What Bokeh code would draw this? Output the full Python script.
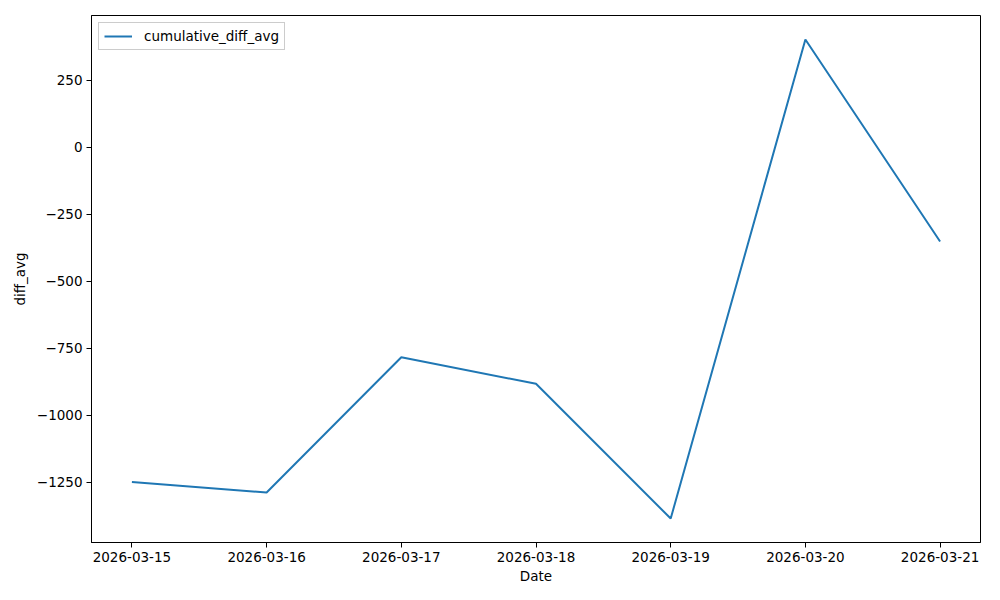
from datetime import datetime
from bokeh.plotting import figure
from bokeh.models import FixedTicker, DatetimeTickFormatter, Range1d, Legend, LegendItem
from bokeh.embed import file_html
from bokeh.resources import INLINE

dates = ["2026-03-15", "2026-03-16", "2026-03-17", "2026-03-18", "2026-03-19", "2026-03-20", "2026-03-21"]
cumulative_diff_avg = [-1250, -1289, -784, -883, -1386, 402, -352]
y_ticks = [-1250, -1000, -750, -500, -250, 0, 250]

xs = [datetime.strptime(d, "%Y-%m-%d") for d in dates]
ms = [(x - datetime(1970, 1, 1)).total_seconds() * 1000 for x in xs]

span = ms[-1] - ms[0]
ymin, ymax = min(cumulative_diff_avg), max(cumulative_diff_avg)
ypad = (ymax - ymin) * 0.05

p = figure(width=984, height=592, x_axis_type="datetime", output_backend="svg",
           toolbar_location=None,
           x_range=Range1d(ms[0] - span * 0.05, ms[-1] + span * 0.05),
           y_range=Range1d(ymin - ypad, ymax + ypad),
           min_border_left=91, min_border_right=4, min_border_top=15, min_border_bottom=50)

r = p.line(xs, cumulative_diff_avg, line_color="#1f77b4", line_width=2)

p.xgrid.visible = False
p.ygrid.visible = False
p.outline_line_color = "black"
p.outline_line_width = 1
p.outline_line_alpha = 1

p.xaxis.ticker = FixedTicker(ticks=ms)
p.xaxis.formatter = DatetimeTickFormatter(days="%Y-%m-%d", months="%Y-%m-%d", hours="%Y-%m-%d")
p.yaxis.ticker = FixedTicker(ticks=y_ticks)
p.xaxis.axis_label = "Date"
p.yaxis.axis_label = "diff_avg"

for ax in (p.xaxis[0], p.yaxis[0]):
    ax.major_label_text_font = "DejaVu Sans"
    ax.major_label_text_font_size = "13.5px"
    ax.major_label_text_color = "black"
    ax.axis_label_text_font = "DejaVu Sans"
    ax.axis_label_text_font_size = "13.5px"
    ax.axis_label_text_font_style = "normal"
    ax.axis_label_text_color = "black"
    ax.major_tick_out = 5
    ax.major_tick_in = 0
    ax.minor_tick_out = 0
    ax.minor_tick_in = 0
    ax.axis_line_color = "black"
    ax.major_tick_line_color = "black"
    ax.axis_label_standoff = 6
    ax.major_label_standoff = 4

p.xaxis[0].axis_label_standoff = 3
p.yaxis[0].major_label_orientation = "horizontal"

legend = Legend(items=[LegendItem(label="cumulative_diff_avg", renderers=[r])],
                location="top_left")
legend.label_text_font = "DejaVu Sans"
legend.label_text_font_size = "13.5px"
legend.label_text_color = "black"
legend.border_line_color = "#cccccc"
legend.border_line_alpha = 1
legend.background_fill_alpha = 0.8
legend.margin = 7
legend.padding = 5
legend.spacing = 0
legend.glyph_width = 28
legend.label_standoff = 12
legend.label_height = 16
legend.glyph_height = 16
p.add_layout(legend)

open("out.html", "w").write(file_html(p, INLINE))
